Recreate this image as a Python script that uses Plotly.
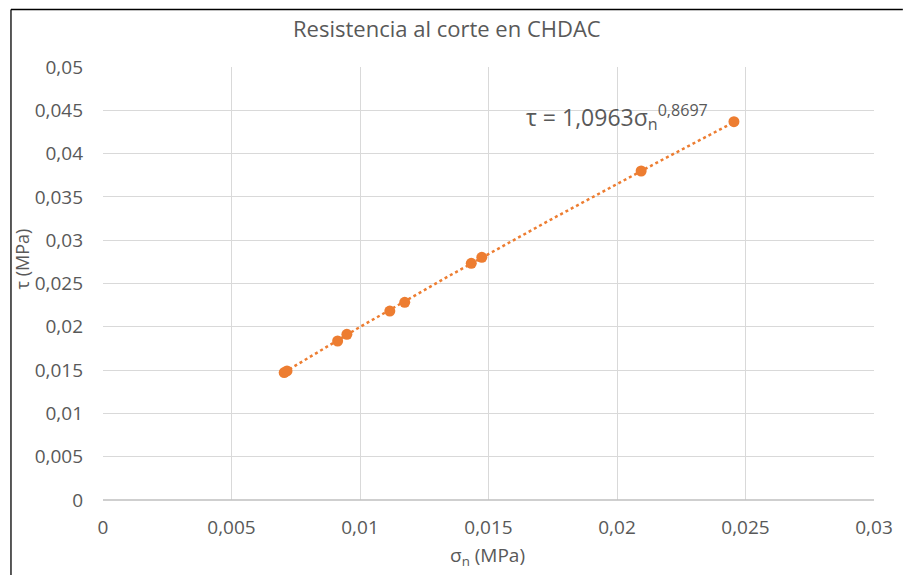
import plotly.graph_objects as go
import numpy as np

# Ensayos de corte directo: tensión normal y resistencia al corte (MPa)
sigma_n = [0.00705, 0.00716, 0.00913, 0.00949, 0.01116, 0.01174, 0.01433, 0.01474, 0.02094, 0.02455]
tau = [0.01472, 0.01490, 0.01836, 0.01913, 0.02182, 0.02283, 0.02733, 0.02802, 0.03799, 0.04369]

# Ajuste potencial tau = a * sigma_n ^ b
coef_a = 1.0963
coef_b = 0.8697

x_ticks = [0, 0.005, 0.01, 0.015, 0.02, 0.025, 0.03]
x_ticktext = ["0", "0,005", "0,01", "0,015", "0,02", "0,025", "0,03"]
y_ticks = [0, 0.005, 0.01, 0.015, 0.02, 0.025, 0.03, 0.035, 0.04, 0.045, 0.05]
y_ticktext = ["0", "0,005", "0,01", "0,015", "0,02", "0,025", "0,03", "0,035", "0,04", "0,045", "0,05"]

title_text = "Resistencia al corte en CHDAC"
x_title = "σ<sub>n</sub> (MPa)"
y_title = "τ (MPa)"

ORANGE = "#ED7D31"
GREY_TXT = "#595959"
GRID = "#D9D9D9"
FONT = "Open Sans"

W, H = 905, 575
ML, MR, MT, MB = 103, 27, 67, 75
PW, PH = W - ML - MR, H - MT - MB


def px_x(p):
    return (p - ML) / PW


def px_y(q):
    return (H - MB - q) / PH


fig = go.Figure()

# Línea de tendencia potencial
xs = np.linspace(min(sigma_n), max(sigma_n), 200)
fig.add_trace(go.Scatter(
    x=xs, y=coef_a * xs ** coef_b, mode="lines",
    line=dict(color=ORANGE, width=2.5, dash="dot"),
    hoverinfo="skip", showlegend=False,
))

# Puntos de ensayo
fig.add_trace(go.Scatter(
    x=sigma_n, y=tau, mode="markers",
    marker=dict(color=ORANGE, size=11, line=dict(width=0)),
    showlegend=False,
))

fmt = lambda v: f"{v:.4f}".replace(".", ",")
eq_text = f"τ = {fmt(coef_a)}σ<sub>n</sub><sup>{fmt(coef_b)}</sup>"

fig.update_layout(
    width=W, height=H,
    margin=dict(l=ML, r=MR, t=MT, b=MB, pad=0),
    paper_bgcolor="white", plot_bgcolor="white",
    font=dict(family=FONT, color=GREY_TXT, size=18),
    xaxis=dict(
        range=[0, 0.03], tickvals=x_ticks, ticktext=x_ticktext,
        showgrid=True, gridcolor=GRID, gridwidth=1.3,
        zeroline=False, showline=False, ticks="",
        tickfont=dict(size=19, color=GREY_TXT, family=FONT),
        ticklabelstandoff=14,
    ),
    yaxis=dict(
        range=[0, 0.05], tickvals=y_ticks, ticktext=y_ticktext,
        showgrid=True, gridcolor=GRID, gridwidth=1.3,
        zeroline=False, showline=False, ticks="",
        tickfont=dict(size=19, color=GREY_TXT, family=FONT),
        ticklabelstandoff=19,
    ),
    shapes=[
        # marco exterior del gráfico
        dict(type="line", xref="paper", yref="paper",
             x0=px_x(10.5), x1=px_x(W + 2), y0=px_y(9.5), y1=px_y(9.5),
             line=dict(color="black", width=1.3)),
        dict(type="line", xref="paper", yref="paper",
             x0=px_x(10.5), x1=px_x(10.5), y0=px_y(9.5), y1=px_y(H + 2),
             line=dict(color="black", width=1.3)),
        # eje horizontal
        dict(type="line", xref="paper", yref="paper",
             x0=0, x1=1, y0=0, y1=0, line=dict(color="#BFBFBF", width=1.3)),
    ],
    annotations=[
        dict(text=title_text, xref="paper", yref="paper",
             x=px_x(449), y=px_y(28), xanchor="center", yanchor="middle",
             showarrow=False, font=dict(size=22, color=GREY_TXT, family=FONT)),
        dict(text=x_title, xref="paper", yref="paper",
             x=px_x(489), y=px_y(556), xanchor="center", yanchor="middle",
             showarrow=False, font=dict(size=19, color=GREY_TXT, family=FONT)),
        dict(text=y_title, xref="paper", yref="paper", textangle=-90,
             x=px_x(22), y=px_y(259), xanchor="center", yanchor="middle",
             showarrow=False, font=dict(size=18, color=GREY_TXT, family=FONT)),
        dict(text=eq_text, xref="paper", yref="paper",
             x=px_x(526), y=px_y(117), xanchor="left", yanchor="middle",
             showarrow=False, font=dict(size=23, color=GREY_TXT, family=FONT)),
    ],
)

fig.write_html("out.html")
